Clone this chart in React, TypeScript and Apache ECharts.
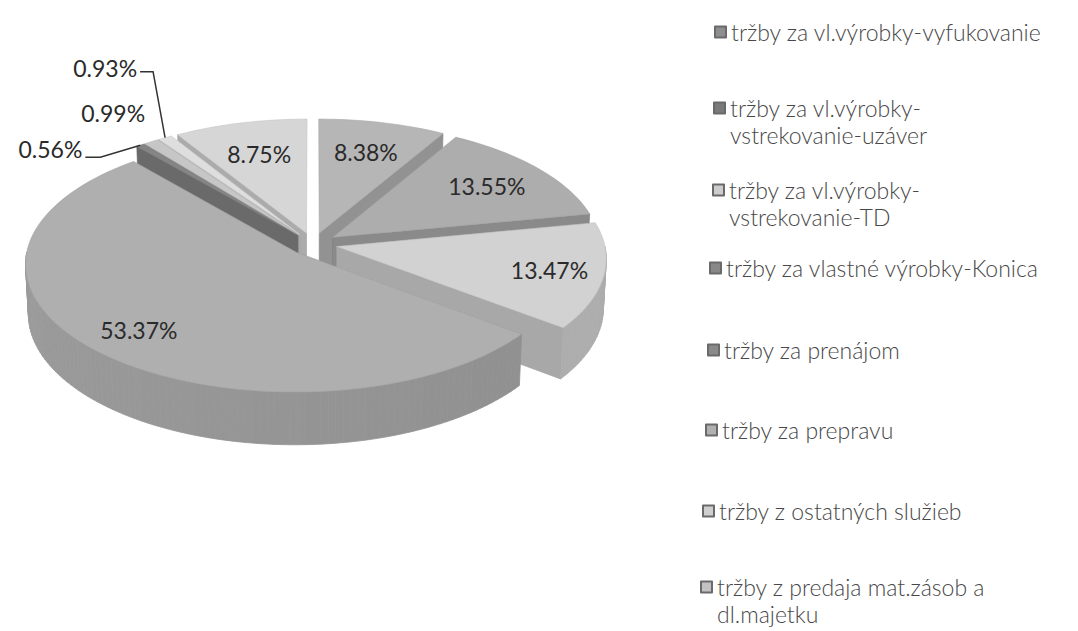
import React, { useEffect, useRef } from 'react';
import * as echarts from 'echarts';

// ---------- data ----------
const CATEGORIES = [
  'tržby za vl.výrobky-vyfukovanie',
  'tržby za vl.výrobky-vstrekovanie-uzáver',
  'tržby za vl.výrobky-vstrekovanie-TD',
  'tržby za vlastné výrobky-Konica',
  'tržby za prenájom',
  'tržby za prepravu',
  'tržby z ostatných služieb',
  'tržby z predaja mat.zásob a dl.majetku',
];
const SHARES = [8.38, 13.55, 13.47, 53.37, 0.56, 0.99, 0.93, 8.75];
const LEGEND_TEXT = [
  'tržby za vl.výrobky-vyfukovanie',
  'tržby za vl.výrobky-\nvstrekovanie-uzáver',
  'tržby za vl.výrobky-\nvstrekovanie-TD',
  'tržby za vlastné výrobky-Konica',
  'tržby za prenájom',
  'tržby za prepravu',
  'tržby z ostatných služieb',
  'tržby z predaja mat.zásob a\ndl.majetku',
];

// ---------- styles / layout ----------
const COLORS = ['#b6b6b6', '#adadad', '#d2d2d2', '#afafaf', '#858585', '#c6c6c6', '#dedede', '#d6d6d6'];
const LEGEND_SWATCH = ['#8e8e8e', '#7a7a7a', '#cdcdcd', '#888888', '#8a8a8a', '#b0b0b0', '#cfcfcf', '#c2c2c2'];
const LEGEND_Y = [32, 108, 190, 268, 350, 430, 511, 587];
const LEGEND_X = [714, 713, 712, 709, 707, 705, 702, 700];
const LABEL_R = [0.72, 0.74, 0.8, 0.8, 0, 0, 0, 0.7];
// outside labels: leader elbow / end and text offsets relative to rim anchor
const OUTSIDE: Record<number, any> = {
  4: { leader: [[-40, 12], [-55, 12]], text: [-58, 4], align: 'right' },
  5: { leader: null, text: [-38, -29], align: 'center' },
  6: { leader: [[-12, -66], [-25, -66]], text: [-28, -70], align: 'right' },
};

const CX = 313;
const CY = 244;
const S = 268;
const SIN_A = 0.47;
const COS_A = Math.sqrt(1 - SIN_A * SIN_A);
const F = 10;
const H = 0.21;
const E = 0.09;

const TOTAL = SHARES.reduce((a, b) => a + b, 0);
const CUM: number[] = [];
SHARES.reduce((acc, v, i) => {
  CUM[i] = acc;
  return acc + v;
}, 0);

function project(x: number, y: number, z: number) {
  const Y = y * COS_A + z * SIN_A;
  const D = z * COS_A - y * SIN_A;
  const s = F / (F + D);
  return [CX + S * x * s, CY - S * Y * s, D];
}

function shade(hex: string, f: number) {
  const n = parseInt(hex.slice(1), 16);
  const r = Math.round(((n >> 16) & 255) * f);
  const g = Math.round(((n >> 8) & 255) * f);
  const b = Math.round((n & 255) * f);
  return `rgb(${r},${g},${b})`;
}

const FONT = 'Lato, "Open Sans", "DejaVu Sans", sans-serif';

function renderItem(params: any, api: any) {
  const i = params.dataIndex;
  const v = api.value(0);
  const a0 = (CUM[i] / TOTAL) * Math.PI * 2;
  const a1 = ((CUM[i] + v) / TOTAL) * Math.PI * 2;
  const m = (a0 + a1) / 2;
  const ox = E * Math.sin(m);
  const oz = E * Math.cos(m);
  const rim = (t: number, y: number, r = 1) => project(ox + r * Math.sin(t), y, oz + r * Math.cos(t));
  const apex = (y: number) => project(ox, y, oz);
  const color = COLORS[i];
  const children: any[] = [];

  // top face
  const topPts: number[][] = [apex(0).slice(0, 2)];
  const steps = Math.max(2, Math.ceil((a1 - a0) / (Math.PI / 90)));
  for (let k = 0; k <= steps; k++) {
    const t = a0 + ((a1 - a0) * k) / steps;
    topPts.push(rim(t, 0).slice(0, 2));
  }
  children.push({
    type: 'polygon',
    shape: { points: topPts },
    style: { fill: color, stroke: shade(color, 0.92), lineWidth: 0.6 },
    z2: 1000,
  });

  // outer wall (front half only)
  const lo = Math.max(a0, Math.PI / 2);
  const hi = Math.min(a1, (Math.PI * 3) / 2);
  if (lo < hi) {
    const n = Math.max(1, Math.ceil((hi - lo) / (Math.PI / 120)));
    for (let k = 0; k < n; k++) {
      const t0 = lo + ((hi - lo) * k) / n;
      const t1 = lo + ((hi - lo) * (k + 1)) / n;
      const p0 = rim(t0, 0);
      const p1 = rim(t1, 0);
      const p2 = rim(t1, -H);
      const p3 = rim(t0, -H);
      const d = (p0[2] + p1[2] + p2[2] + p3[2]) / 4;
      const light = 0.85 + 0.03 * Math.sin((t0 + t1) / 2 - Math.PI);
      const c = shade(color, light);
      children.push({
        type: 'polygon',
        shape: { points: [p0, p1, p2, p3].map((p) => p.slice(0, 2)) },
        style: { fill: c, stroke: c, lineWidth: 0.8 },
        z2: 500 - d * 100,
      });
    }
  }

  // cut faces
  const cut = (t: number) => {
    const p0 = apex(0);
    const p1 = rim(t, 0);
    const p2 = rim(t, -H);
    const p3 = apex(-H);
    const d = (p0[2] + p1[2] + p2[2] + p3[2]) / 4;
    const c = shade(color, 0.8);
    children.push({
      type: 'polygon',
      shape: { points: [p0, p1, p2, p3].map((p) => p.slice(0, 2)) },
      style: { fill: c, stroke: shade(color, 0.74), lineWidth: 0.6 },
      z2: 500 - d * 100,
    });
  };
  if (Math.sin(a0) < -1e-6) cut(a0);
  if (Math.sin(a1) > 1e-6) cut(a1);

  // label
  const txt = v.toFixed(2) + '%';
  const textStyleBase = {
    text: txt,
    fill: '#2a2a2a',
    fontSize: 23,
    fontFamily: FONT,
  };
  if (OUTSIDE[i]) {
    const cfg = OUTSIDE[i];
    const a = rim(m, 0);
    if (cfg.leader) {
      const pts = [[a[0], a[1]], ...cfg.leader.map((q: number[]) => [a[0] + q[0], a[1] + q[1]])];
      children.push({
        type: 'polyline',
        shape: { points: pts },
        style: { stroke: '#333333', lineWidth: 1.5, fill: 'none' },
        z2: 1900,
      });
    }
    children.push({
      type: 'text',
      x: a[0] + cfg.text[0],
      y: a[1] + cfg.text[1],
      style: {
        ...textStyleBase,
        align: cfg.align,
        verticalAlign: 'middle',
        textAlign: cfg.align,
        textVerticalAlign: 'middle',
      },
      z2: 2000,
    });
  } else {
    const r = LABEL_R[i];
    const p = project(ox + r * Math.sin(m), 0, oz + r * Math.cos(m));
    children.push({
      type: 'text',
      x: p[0],
      y: p[1],
      style: {
        ...textStyleBase,
        align: 'center',
        verticalAlign: 'middle',
        textAlign: 'center',
        textVerticalAlign: 'middle',
      },
      z2: 2000,
    });
  }

  return { type: 'group', children };
}

export default function App() {
  const ref = useRef<HTMLDivElement>(null);
  useEffect(() => {
    document.body.style.margin = '0';
    if (!ref.current) return;
    const chart = echarts.init(ref.current, undefined, { renderer: 'svg' });
    const LH = 27;
    const legends = CATEGORIES.map((name, i) => {
      const twoLine = LEGEND_TEXT[i].includes('\n');
      return {
        data: [name],
        left: LEGEND_X[i],
        top: LEGEND_Y[i] - (twoLine ? LH * 1.5 : LH / 2),
        orient: 'vertical',
        padding: 0,
        icon: 'rect',
        itemWidth: 11,
        itemHeight: 11,
        itemGap: 0,
        selectedMode: false,
        // a leading blank line keeps the icon level with the first text line
        formatter: () => (twoLine ? ' \n' + LEGEND_TEXT[i] : LEGEND_TEXT[i]),
        textStyle: {
          fontFamily: FONT,
          fontSize: 23,
          fontWeight: 300,
          color: '#484848',
          lineHeight: LH,
        },
      };
    });
    chart.setOption({
      animation: false,
      backgroundColor: '#ffffff',
      legend: legends,
      series: [
        {
          type: 'pie',
          radius: [0, 0],
          center: [-100, -100],
          silent: true,
          label: { show: false },
          labelLine: { show: false },
          data: CATEGORIES.map((name, i) => ({
            name,
            value: SHARES[i],
            itemStyle: { color: LEGEND_SWATCH[i], borderColor: '#6a6a6a', borderWidth: 1 },
          })),
        },
        {
          type: 'custom',
          coordinateSystem: 'none',
          silent: true,
          renderItem,
          data: SHARES.map((v) => [v]),
        },
      ],
    });
    return () => chart.dispose();
  }, []);
  return <div ref={ref} style={{ width: 1078, height: 631 }} />;
}
